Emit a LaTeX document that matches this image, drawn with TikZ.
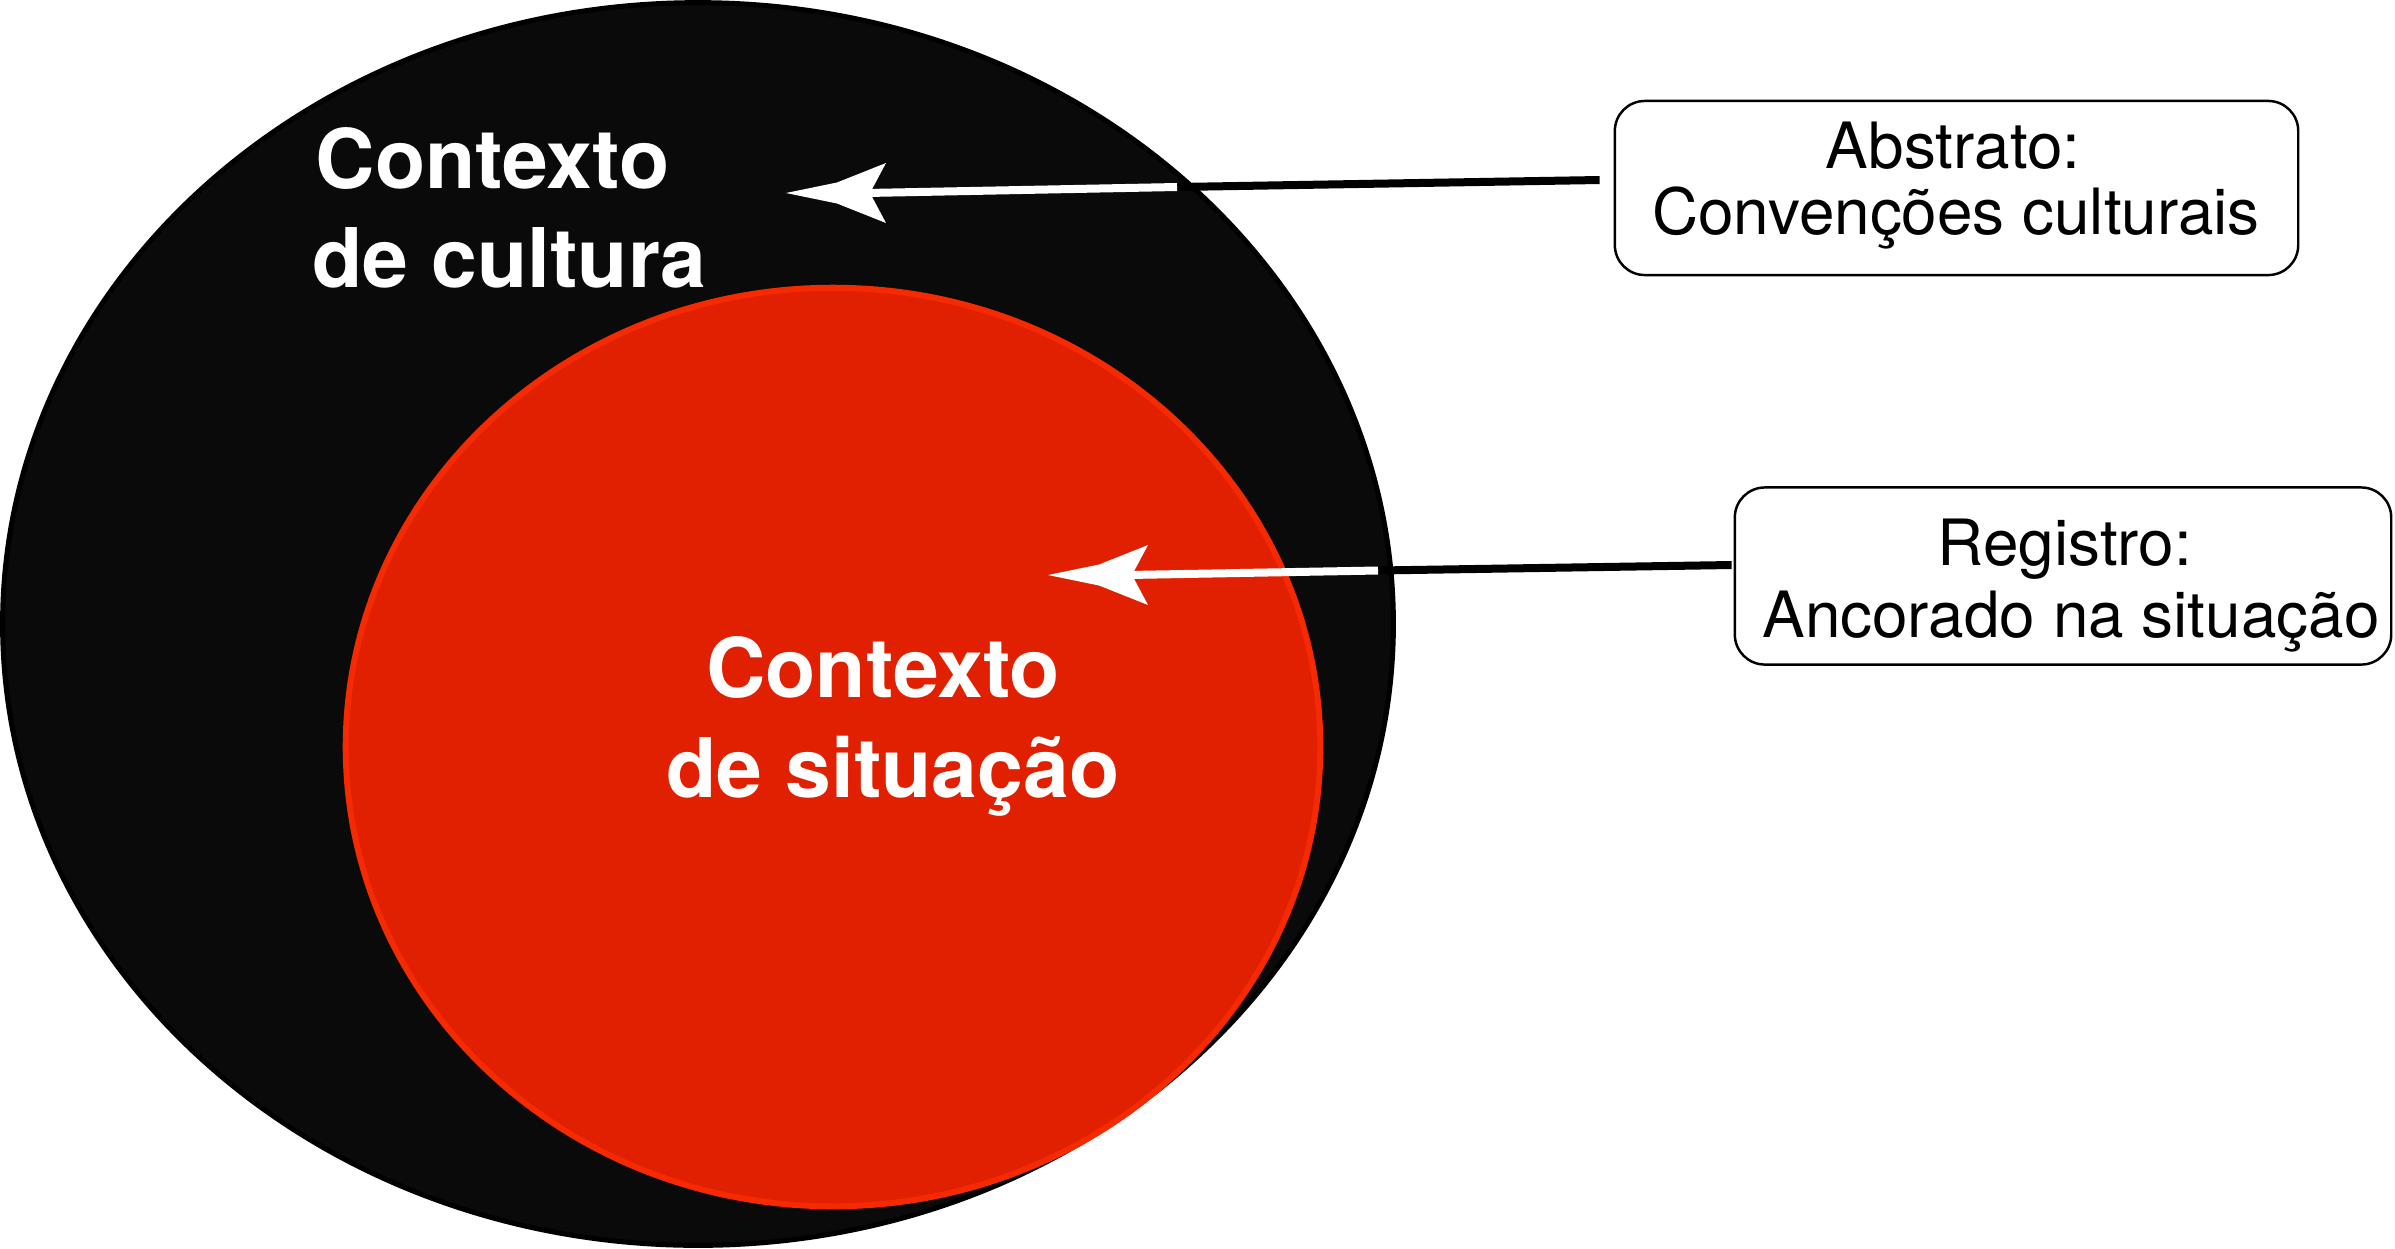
\documentclass[tikz,border=0pt]{standalone}
\usepackage{fontspec}
\setmainfont{TeX Gyre Heros}
\usetikzlibrary{calc,shapes.geometric}
\definecolor{outerfill}{HTML}{0A0A0A}
\definecolor{innerfill}{HTML}{E02000}
\definecolor{innerline}{HTML}{F52A00}
\begin{document}
\begin{tikzpicture}[x=0.01cm,y=-0.01cm,
  bigtext/.style={text=white, font=\fontsize{23.4}{28}\selectfont\bfseries, inner sep=0pt},
  boxtext/.style={text=black, font=\fontsize{18.15}{22}\selectfont, inner sep=0pt, anchor=base},
  labelbox/.style={draw=black, line width=0.7pt, rounded corners=0.3cm, fill=white, inner sep=0pt},
  outerell/.style={ellipse, fill=outerfill, draw=black, line width=0.05cm, inner sep=0pt},
  innerell/.style={ellipse, fill=innerfill, draw=innerline, line width=0.06cm, inner sep=0pt},
  blackconn/.style={draw=black, line width=0.08cm},
  whiteconn/.style={draw=white, line width=0.08cm},
  headfill/.style={fill=white, draw=none}]
\useasboundingbox (0,0) rectangle (2395,1248);
\fill[white] (0,0) rectangle (2395,1248);

% ellipses
\node[outerell, minimum width=13.9cm, minimum height=12.42cm] (culture) at (698,624) {};
\node[innerell, minimum width=9.74cm, minimum height=9.18cm] (situation) at (833,747) {};

% white texts
\node[bigtext, anchor=base west] (cult1) at (315,188) {Contexto};
\node[bigtext, anchor=base west] (cult2) at (312,287) {de cultura};
\node[bigtext, anchor=base] (sit1) at (883,697) {Contexto};
\node[bigtext, anchor=base] (sit2) at (893,797) {de situação};

% label boxes
\node[labelbox, minimum width=6.83cm, minimum height=1.74cm] (boxA) at (1956.5,188) {};
\node[boxtext] (txtA1) at (1953,168) {Abstrato:};
\node[boxtext] (txtA2) at (1956,234) {Convenções culturais};

\node[labelbox, minimum width=6.56cm, minimum height=1.77cm] (boxB) at (2063,576) {};
\node[boxtext] (txtB1) at (2065,565) {Registro:};
\node[boxtext] (txtB2) at (2071,637) {Ancorado na situação};

% connector A
\coordinate (sA) at ($(boxA.west)+(-14,-8)$);
\coordinate (cA) at (1177,187);
\coordinate (tipA) at (786,193);
\coordinate (nA) at ($(tipA)+(80,0)$);
\draw[blackconn] (sA) -- (cA);
\draw[whiteconn] (cA) -- (nA);
\fill[headfill] (tipA) -- ++(51,-10.5) -- ++(49,-19.5) -- ++(-16,30) -- ++(16,30) -- ++(-49,-19.5) -- cycle;

% connector B
\coordinate (sB) at ($(boxB.west)+(-2,-11)$);
\coordinate (cB) at (1378,570.5);
\coordinate (tipB) at (1048,575);
\coordinate (nB) at ($(tipB)+(80,0)$);
\draw[blackconn] (sB) -- (cB);
\draw[whiteconn] (cB) -- (nB);
\fill[headfill] (tipB) -- ++(51,-10.5) -- ++(49,-19.5) -- ++(-16,30) -- ++(16,30) -- ++(-49,-19.5) -- cycle;
\end{tikzpicture}
\end{document}
